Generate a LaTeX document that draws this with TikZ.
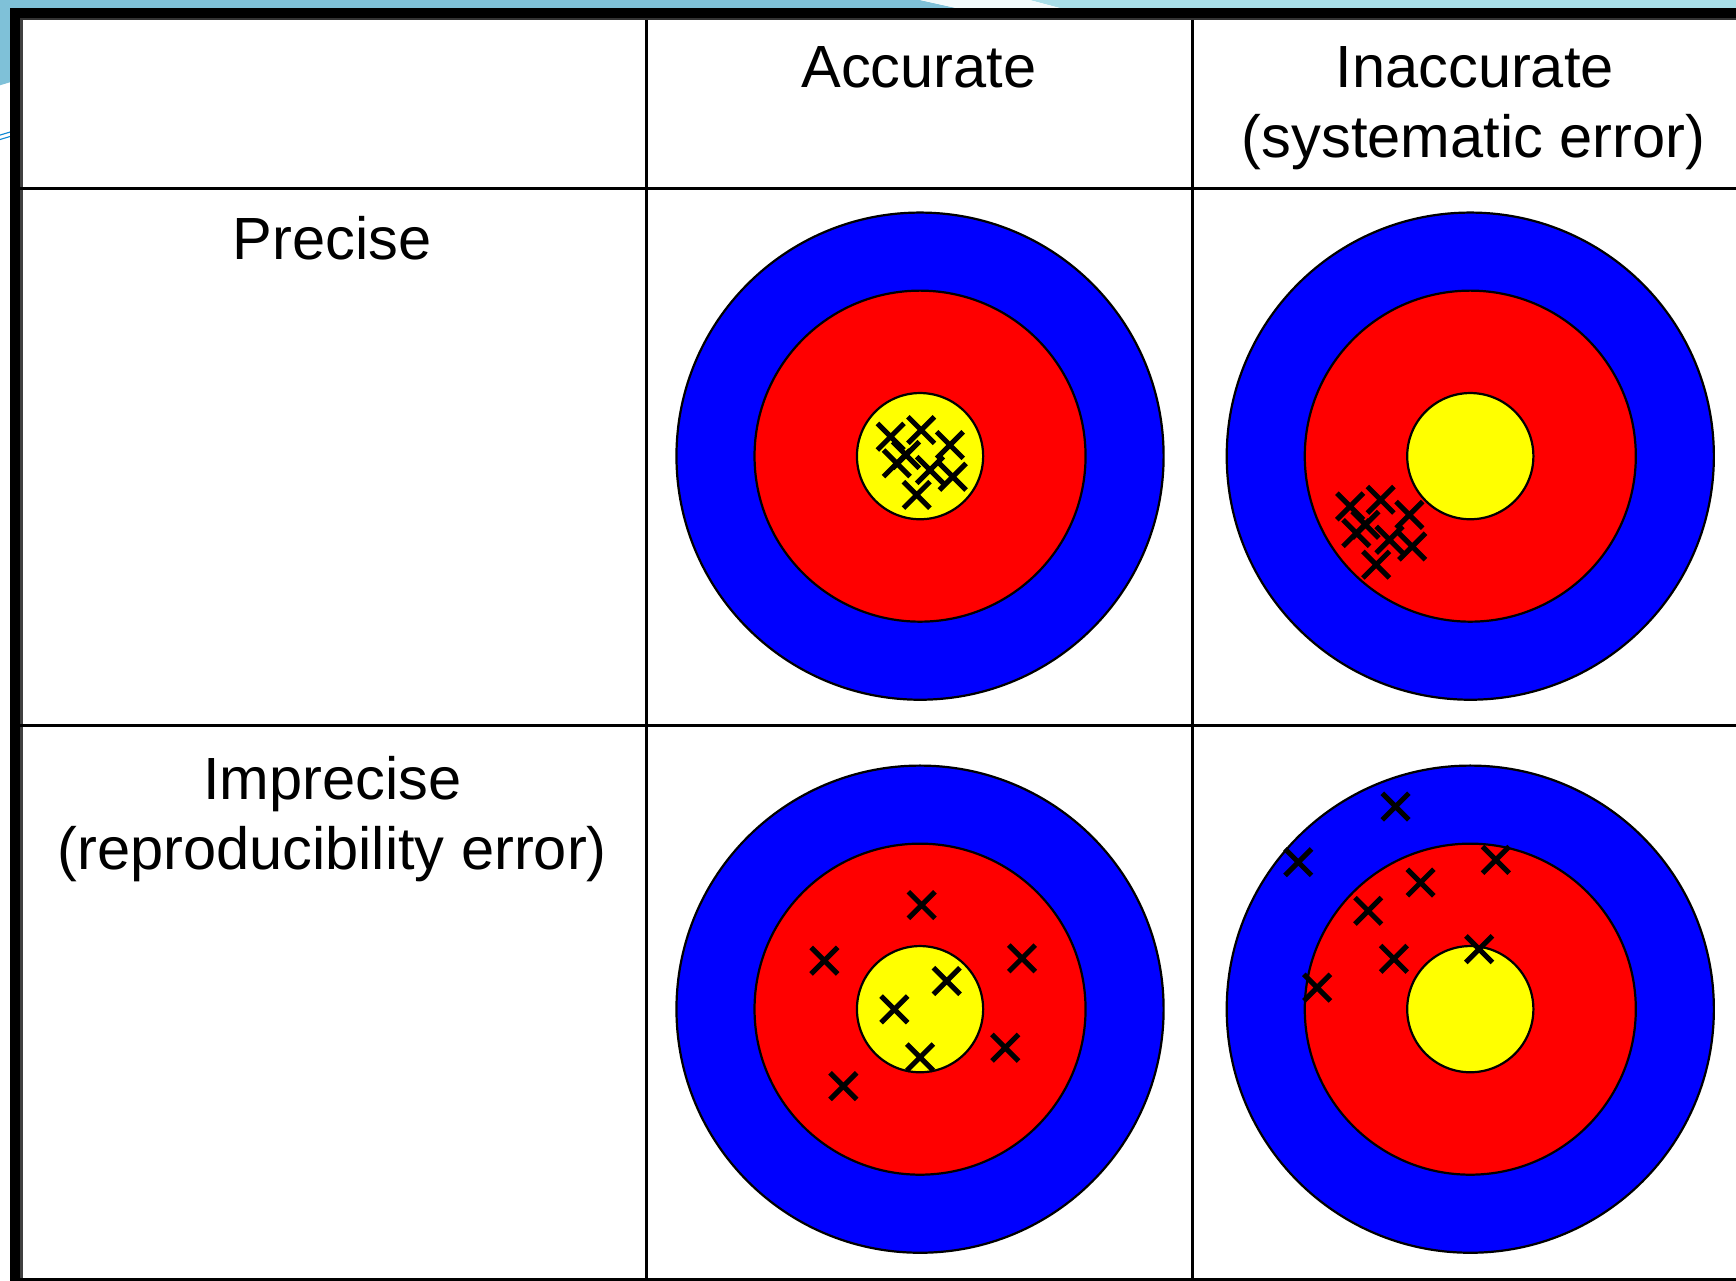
\documentclass[tikz,border=0pt]{standalone}
\usepackage{fontspec}
\setmainfont{Liberation Sans}
\definecolor{banddark}{HTML}{7FC1D8}
\definecolor{bandlight}{HTML}{A8DEE8}
\definecolor{tgtblue}{HTML}{0000FF}
\definecolor{tgtred}{HTML}{FF0000}
\definecolor{tgtyellow}{HTML}{FFFF00}
\tikzset{
  label/.style={font=\fontsize{53.8}{63}\selectfont, inner sep=0pt, anchor=base, align=center},
  gridline/.style={line width=2.6pt, black},
  ring/.style={draw=black, line width=2pt},
  crossline/.style={line width=4.6pt, black},
}
\newcommand{\drawtarget}[1]{%
  \fill[tgtblue] (#1) circle (220pt);
  \draw[ring] (#1) circle (220pt);
  \fill[tgtred] (#1) circle (149.5pt);
  \draw[ring] (#1) circle (149.5pt);
  \fill[tgtyellow] (#1) circle (57pt);
  \draw[ring] (#1) circle (57pt);
}
\newcommand{\xmark}[2]{\draw[crossline, shift={(#1,#2)}] (-12,-12) -- (12,12) (-12,12) -- (12,-12);}
\begin{document}
\begin{tikzpicture}[x=1pt,y=-1pt]
\useasboundingbox (0,0) rectangle (1568,1157);
% background
\fill[white] (0,0) rectangle (1568,1157);
\fill[banddark] (0,0) -- (831,0) -- (867,8) -- (0,8) -- cycle;
\fill[bandlight] (930,0) -- (1568,0) -- (1568,8) -- (960,8) -- cycle;
\fill[white!85!bandlight] (831,0) -- (930,0) -- (960,8) -- (867,8) -- cycle;
\fill[banddark] (0,0) -- (10,0) -- (10,74) -- (0,77) -- cycle;
\draw[cyan!70!blue, line width=1pt] (0,122) -- (10,119);
\draw[cyan!70!blue, line width=1pt] (0,126) -- (10,123);
% table frame
\fill[black] (9,7) rectangle (18,1157);
\fill[black!75] (18,17) rectangle (20.5,1157);
\fill[black] (9,7) rectangle (1568,16.5);
\fill[black!80] (18,16.5) rectangle (1568,18.5);
\draw[gridline] (18,170) -- (1568,170);
\draw[gridline] (18,655) -- (1568,655);
\draw[gridline] (18,1155.7) -- (1568,1155.7);
\draw[gridline] (584,18) -- (584,1157);
\draw[gridline] (1077,18) -- (1077,1157);
% headings
\node[label] (hacc) at (830,79) {Accurate};
\node[label] (hinacc) at (1332,79) {Inaccurate};
\node[label] (hsys) at (1331,142) {(systematic error)};
\node[label] (hprec) at (300,234) {Precise};
\node[label] (himp) at (300,722) {Imprecise};
\node[label] (hrep) at (300,785) {(reproducibility error)};
% targets
\coordinate (tA) at (831,412);
\coordinate (tB) at (1328,412);
\coordinate (tC) at (831,911.5);
\coordinate (tD) at (1328,911.5);
\drawtarget{tA}
\drawtarget{tB}
\drawtarget{tC}
\drawtarget{tD}
% precise & accurate
\begin{scope}[shift={(tA)}]
\foreach \a/\b in {-26.5/-17.6, 1/-23.6, 27/-10, -21/6.5, -12.7/-1, 9/12.5, 29.5/18.6, -3/35}
  {\xmark{\a}{\b}}
\end{scope}
% precise & inaccurate
\begin{scope}[shift={(tB)}, shift={(-82,63)}]
\foreach \a/\b in {-26.5/-17.6, 1/-23.6, 27/-10, -21/6.5, -12.7/-1, 9/12.5, 29.5/18.6, -3/35}
  {\xmark{\a}{\b}}
\end{scope}
% imprecise & accurate
\begin{scope}[shift={(tC)}]
\foreach \a/\b in {1.5/-94, -86.4/-43.8, 92.1/-45.9, 24.1/-25.4, -23.2/0.2, 77/34.8, 0/43.5, -69.3/69.5}
  {\xmark{\a}{\b}}
\end{scope}
% imprecise & inaccurate
\begin{scope}[shift={(tD)}, shift={(-69,-89)}]
\foreach \a/\b in {1.5/-94, -86.4/-43.8, 92.1/-45.9, 24.1/-25.4, -23.2/0.2, 77/34.8, 0/43.5, -69.3/69.5}
  {\xmark{\a}{\b}}
\end{scope}
\end{tikzpicture}
\end{document}
